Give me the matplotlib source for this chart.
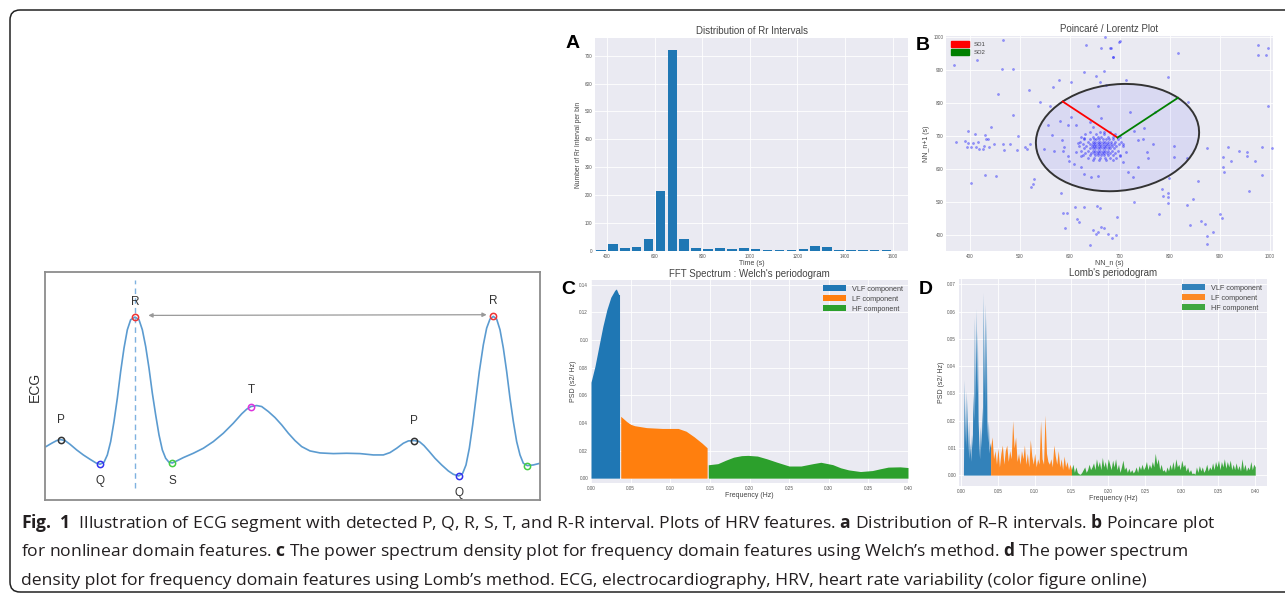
import numpy as np
import matplotlib
matplotlib.use("Agg")
import matplotlib.pyplot as plt
from matplotlib.patches import Ellipse, Patch, FancyBboxPatch

W, H = 1285, 594

# ---------------- data ----------------
# A: distribution of RR intervals (bin centres, counts)
rr_bins = [375, 425, 475, 525, 575, 625, 675, 725, 775, 825, 875, 925, 975,
           1025, 1075, 1125, 1175, 1225, 1275, 1325, 1375, 1425, 1475, 1525, 1575]
rr_counts = [5, 24, 12, 15, 42, 216, 720, 44, 12, 8, 10, 8, 12,
             8, 5, 5, 5, 8, 18, 15, 4, 2, 2, 2, 2]

# B: Poincare plot points (NN_n, NN_n+1)
poincare_outer = [
    (465, 992), (413, 931), (367, 915), (464, 903), (485, 903), (518, 839), (455, 827),
    (577, 870), (601, 865), (631, 978), (661, 969), (651, 883), (540, 802), (560, 792),
    (485, 764), (441, 728), (669, 1000), (680, 969), (697, 985), (685, 941), (627, 893),
    (668, 898), (660, 865), (672, 855), (565, 850),
    (396, 716), (409, 707), (430, 703), (372, 682), (389, 685), (396, 680), (405, 680),
    (415, 683), (431, 690), (435, 690), (393, 667), (401, 667), (411, 665), (418, 660),
    (425, 660), (428, 670), (438, 665), (448, 675), (465, 675), (480, 677), (468, 657),
    (493, 657), (496, 700), (509, 667), (513, 660), (520, 675),
    (401, 558), (430, 582), (451, 578), (527, 568), (525, 555), (521, 545),
    (581, 525), (585, 467), (593, 467), (610, 484), (627, 484), (590, 421), (613, 446),
    (618, 439), (660, 480), (639, 368), (645, 414), (655, 408), (661, 424), (668, 421),
    (651, 401), (675, 401), (691, 399), (684, 391), (694, 454), (653, 486), (727, 500),
    (555, 734), (563, 703), (548, 660), (568, 655), (580, 744), (583, 687), (596, 734),
    (612, 734), (601, 758), (615, 680), (628, 695), (639, 741), (645, 726), (656, 792),
    (661, 756), (668, 711), (588, 665), (596, 640), (598, 625), (608, 614), (621, 604),
    (628, 584), (641, 574), (655, 579), (611, 650), (621, 640), (585, 653),
    (681, 969), (685, 939), (699, 988), (711, 870), (816, 952), (795, 878), (975, 978),
    (996, 967), (975, 947), (991, 947), (996, 792), (836, 802), (719, 774), (769, 774),
    (748, 724), (728, 716), (736, 687), (746, 690), (766, 675), (753, 650), (756, 632),
    (807, 670), (807, 636), (833, 632), (874, 662), (906, 636), (916, 665), (921, 624),
    (937, 655), (953, 650), (953, 639), (969, 624), (983, 665), (1004, 662), (906, 607),
    (908, 589), (983, 582), (957, 533), (856, 563), (797, 571), (783, 538), (795, 527),
    (786, 516), (795, 513), (795, 495), (845, 507), (833, 490), (777, 462), (899, 462),
    (904, 450), (861, 441), (869, 433), (840, 429), (886, 408), (874, 396), (874, 370),
    (736, 604), (726, 575), (716, 590), (706, 620), (712, 650), (700, 640), (705, 675),
]
poincare_core = [
    (640, 712), (660, 712), (680, 712),
    (630, 705), (652, 705), (668, 705), (690, 705),
    (622, 698), (645, 698), (655, 698), (662, 698), (675, 698), (685, 698), (700, 698),
    (628, 690), (640, 690), (648, 690), (652, 690), (658, 690), (665, 690), (672, 690),
    (678, 690), (685, 690), (695, 690),
    (620, 683), (635, 683), (645, 683), (650, 683), (655, 683), (660, 683), (665, 683),
    (670, 683), (676, 683), (682, 683), (690, 683), (702, 683),
    (625, 676), (640, 676), (646, 676), (650, 676), (655, 676), (660, 676), (666, 676),
    (671, 676), (676, 676), (681, 676), (688, 676), (698, 676),
    (618, 669), (632, 669), (644, 669), (648, 669), (652, 669), (657, 669), (662, 669),
    (667, 669), (672, 669), (677, 669), (683, 669), (692, 669), (705, 669),
    (628, 662), (640, 662), (646, 662), (650, 662), (655, 662), (660, 662), (665, 662),
    (670, 662), (675, 662), (680, 662), (688, 662),
    (622, 655), (636, 655), (645, 655), (650, 655), (655, 655), (660, 655), (665, 655),
    (670, 655), (676, 655), (684, 655), (695, 655),
    (630, 648), (642, 648), (648, 648), (653, 648), (658, 648), (663, 648), (668, 648),
    (674, 648), (680, 648), (690, 648),
    (625, 641), (640, 641), (650, 641), (656, 641), (662, 641), (668, 641), (675, 641),
    (685, 641), (700, 641),
    (635, 634), (648, 634), (660, 634), (670, 634), (680, 634), (692, 634),
    (645, 627), (658, 627), (672, 627), (686, 627),
]
poincare_centre = (695, 695)
sd1, sd2 = 155, 171

# C: Welch PSD
welch_vlf_f = [0.000, 0.005, 0.010, 0.015, 0.020, 0.025, 0.030, 0.032, 0.035, 0.036]
welch_vlf_p = [0.0695, 0.081, 0.0956, 0.110, 0.122, 0.131, 0.136, 0.137, 0.133, 0.133]
welch_lf_f = [0.0375, 0.045, 0.050, 0.055, 0.070, 0.090, 0.100, 0.110, 0.120, 0.130,
              0.140, 0.1465]
welch_lf_p = [0.0448, 0.041, 0.039, 0.038, 0.0366, 0.036, 0.036, 0.036, 0.034, 0.030,
              0.0254, 0.022]
welch_hf_f = [0.148, 0.160, 0.170, 0.180, 0.190, 0.198, 0.210, 0.222, 0.235, 0.250,
              0.265, 0.280, 0.290, 0.305, 0.315, 0.325, 0.340, 0.355, 0.365, 0.375,
              0.390, 0.400]
welch_hf_p = [0.0097, 0.0105, 0.013, 0.0152, 0.0163, 0.0165, 0.016, 0.014, 0.0115, 0.0088,
              0.0088, 0.0105, 0.0115, 0.0098, 0.0075, 0.006, 0.0048, 0.0055, 0.0068, 0.008,
              0.0082, 0.0077]

# D: Lomb periodogram
lomb_vlf_f = [0.003, 0.004, 0.005, 0.006, 0.007, 0.008, 0.009, 0.010, 0.011, 0.012,
              0.013, 0.014, 0.015, 0.016, 0.017, 0.018, 0.019, 0.020, 0.021, 0.022,
              0.023, 0.024, 0.025, 0.026, 0.027, 0.028, 0.029, 0.030, 0.031, 0.032,
              0.033, 0.034, 0.035, 0.036, 0.037, 0.038, 0.039, 0.040]
lomb_vlf_p = [0.000, 0.035, 0.012, 0.031, 0.010, 0.028, 0.008, 0.020, 0.006, 0.012,
              0.005, 0.015, 0.010, 0.030, 0.020, 0.058, 0.025, 0.061, 0.030, 0.053,
              0.020, 0.012, 0.006, 0.018, 0.010, 0.025, 0.015, 0.067, 0.030, 0.063,
              0.025, 0.058, 0.020, 0.012, 0.020, 0.008, 0.012, 0.010]
lomb_lf_p = [0.010, 0.014, 0.006, 0.009, 0.004, 0.010, 0.003, 0.008, 0.011, 0.004,
             0.009, 0.011, 0.005, 0.009, 0.006, 0.020, 0.010, 0.014, 0.005, 0.008,
             0.004, 0.009, 0.006, 0.011, 0.004, 0.008, 0.003, 0.013, 0.007, 0.004,
             0.008, 0.003, 0.006, 0.004, 0.020, 0.006, 0.004, 0.022, 0.008, 0.005,
             0.004, 0.006, 0.003, 0.011, 0.007, 0.004, 0.009, 0.003, 0.006, 0.002,
             0.007, 0.003, 0.005, 0.002, 0.004, 0.002]
lomb_hf_p = [0.002, 0.004, 0.001, 0.003, 0.001, 0.0005, 0.0003, 0.001, 0.002, 0.003,
             0.001, 0.002, 0.004, 0.002, 0.003, 0.0045, 0.002, 0.006, 0.003, 0.005,
             0.002, 0.0065, 0.003, 0.005, 0.002, 0.006, 0.004, 0.002, 0.0055, 0.003,
             0.006, 0.002, 0.004, 0.001, 0.003, 0.0055, 0.002, 0.003, 0.001, 0.0025,
             0.001, 0.002, 0.0008, 0.0015, 0.003, 0.001, 0.0035, 0.002, 0.004, 0.002,
             0.003, 0.005, 0.002, 0.004, 0.0025, 0.005, 0.003, 0.008, 0.004, 0.006,
             0.002, 0.004, 0.0015, 0.002, 0.001, 0.003, 0.0015, 0.004, 0.002, 0.005,
             0.002, 0.006, 0.003, 0.004, 0.002, 0.0055, 0.003, 0.004, 0.0015, 0.003,
             0.001, 0.002, 0.0005, 0.0008, 0.0003, 0.003, 0.001, 0.0035, 0.0015, 0.003,
             0.001, 0.002, 0.004, 0.0015, 0.003, 0.002, 0.0045, 0.002, 0.005, 0.003,
             0.0055, 0.002, 0.005, 0.003, 0.006, 0.0025, 0.005, 0.003, 0.0055, 0.002,
             0.004, 0.002, 0.0045, 0.002, 0.0035, 0.0015, 0.006, 0.002, 0.004, 0.0015,
             0.003, 0.002, 0.005, 0.002, 0.004, 0.003]
lomb_lf_f = np.round(np.arange(0.040, 0.1501, 0.002), 3)
lomb_hf_f = np.round(np.arange(0.150, 0.4001, 0.002), 3)

# ECG segment (sample, amplitude)
ecg_t = [78, 95, 110, 122, 135, 150, 170, 190, 210, 228, 240, 252, 262, 272, 282, 292,
         302, 312, 322, 332, 345, 357, 367, 377, 387, 397, 407, 417, 427, 437, 447, 457,
         470, 490, 520, 550, 580, 610, 640, 665, 680, 693, 710, 725, 745, 765, 785, 805,
         825, 845, 870, 900, 940, 980, 1020, 1060, 1090, 1110, 1130, 1150, 1165, 1183,
         1198, 1212, 1228, 1245, 1265, 1285, 1300, 1316, 1328, 1338, 1348, 1358, 1368,
         1378, 1390, 1400, 1410, 1420, 1430, 1440, 1450, 1460, 1470, 1480, 1490, 1500,
         1510, 1522, 1540, 1560]
ecg_y = [545, 535, 527, 524, 527, 538, 555, 570, 583, 594, 598, 592, 570, 530, 470, 400,
         320, 250, 195, 165, 157, 165, 195, 245, 310, 385, 450, 510, 555, 580, 592, 594,
         588, 578, 565, 550, 530, 505, 475, 447, 433, 425, 422, 425, 440, 458, 480, 505,
         527, 545, 558, 564, 566, 565, 566, 570, 570, 563, 550, 535, 528, 527,
         530, 542, 560, 580, 600, 618, 628, 633, 625, 600, 550, 480, 400,
         320, 240, 190, 163, 155, 163, 195, 250, 320, 400, 470, 530, 570,
         595, 602, 600, 595]
ecg_amp = [705 - v for v in ecg_y]
wave_names = ["P", "Q", "R", "S", "T", "P", "Q", "R", "S"]
wave_t = [122, 240, 345, 457, 693, 1183, 1316, 1420, 1522]
wave_amp = [705 - v for v in [524, 598, 157, 594, 425, 527, 633, 155, 602]]

caption = [
    r"$\mathbf{Fig.\ 1}$  Illustration of ECG segment with detected P, Q, R, S, T, and R-R interval. "
    r"Plots of HRV features. $\mathbf{a}$ Distribution of R–R intervals. $\mathbf{b}$ Poincare plot",
    r"for nonlinear domain features. $\mathbf{c}$ The power spectrum density plot for frequency "
    r"domain features using Welch’s method. $\mathbf{d}$ The power spectrum",
    r"density plot for frequency domain features using Lomb’s method. ECG, electrocardiography, "
    r"HRV, heart rate variability (color figure online)",
]

# ---------------- drawing ----------------
plt.rcParams['font.family'] = 'Liberation Sans'
plt.rcParams['mathtext.fontset'] = 'custom'
plt.rcParams['mathtext.rm'] = 'Open Sans'
plt.rcParams['mathtext.bf'] = 'Open Sans:bold'

BLUE, ORANGE, GREEN = '#1f77b4', '#ff7f0e', '#2ca02c'

fig = plt.figure(figsize=(W / 100, H / 100), dpi=100)


def add_ax(l, t, r, b):
    return fig.add_axes([l / W, 1 - b / H, (r - l) / W, (b - t) / H])


def dark_style(ax):
    ax.set_facecolor('#EAEAF2')
    ax.grid(True, color='white', lw=0.6)
    ax.set_axisbelow(True)
    for s in ax.spines.values():
        s.set_visible(False)
    ax.tick_params(length=0, labelsize=3.3, labelcolor='#555555', pad=2)


# outer frame
frame = FancyBboxPatch((0.10, 0.02), 13.2, 5.82, boxstyle="round,pad=0,rounding_size=0.1",
                       transform=fig.dpi_scale_trans, fill=False, ec='#222222', lw=1.1)
fig.patches.append(frame)

# A
axA = add_ax(595, 38, 908, 251)
dark_style(axA)
axA.bar(rr_bins, rr_counts, width=40, color=BLUE)
axA.set_xlim(350, 1665)
axA.set_ylim(0, 763)
axA.set_xticks(range(400, 1601, 200))
axA.set_yticks(range(0, 701, 100))
axA.set_title("Distribution of Rr Intervals", fontsize=7, color='#444444', pad=3)
axA.set_xlabel("Time (s)", fontsize=5, color='#444444', labelpad=1)
axA.set_ylabel("Number of Rr Interval per bin", fontsize=4.8, color='#444444', labelpad=2)

# B
axB = add_ax(946, 36, 1273, 251)
dark_style(axB)
pts = poincare_outer + poincare_core
nn_n = [p[0] for p in pts]
nn_n1 = [p[1] for p in pts]
axB.scatter(nn_n, nn_n1, s=2.5, c='blue', alpha=0.38, edgecolors='blue', linewidths=0.3)
cx, cy = poincare_centre
axB.add_patch(Ellipse((cx, cy), 2 * sd2, 2 * sd1, angle=45, fc='blue', alpha=0.07, ec='none'))
axB.add_patch(Ellipse((cx, cy), 2 * sd2, 2 * sd1, angle=45, fill=False, ec='#333333', lw=1.4))
c45 = np.cos(np.pi / 4)
axB.plot([cx, cx - sd1 * c45], [cy, cy + sd1 * c45], color='red', lw=1.3)
axB.plot([cx, cx + sd2 * c45], [cy, cy + sd2 * c45], color='green', lw=1.3)
axB.set_xlim(352, 1006)
axB.set_ylim(350, 1004)
axB.set_xticks(range(400, 1001, 100))
axB.set_yticks(range(400, 1001, 100))
axB.set_title("Poincaré / Lorentz Plot", fontsize=7, color='#444444', pad=3)
axB.set_xlabel("NN_n (s)", fontsize=5, color='#444444', labelpad=1)
axB.set_ylabel("NN_n+1 (s)", fontsize=5, color='#444444', labelpad=2)
axB.legend(handles=[Patch(color='red', label='SD1'), Patch(color='green', label='SD2')],
           loc='upper left', fontsize=4.4, frameon=False, handlelength=3.0, handleheight=1.2,
           borderaxespad=0.4, labelspacing=0.25, labelcolor='#444444')

# C
axC = add_ax(591, 280, 908, 483)
dark_style(axC)
axC.fill_between(welch_vlf_f, welch_vlf_p, color=BLUE, lw=0, label='VLF component')
axC.fill_between(welch_lf_f, welch_lf_p, color=ORANGE, lw=0, label='LF component')
axC.fill_between(welch_hf_f, welch_hf_p, color=GREEN, lw=0, label='HF component')
axC.set_xlim(0, 0.40)
axC.set_ylim(-0.0035, 0.1435)
axC.set_xticks(np.arange(0, 0.401, 0.05))
axC.set_yticks(np.arange(0, 0.141, 0.02))
axC.xaxis.set_major_formatter('{x:.2f}')
axC.yaxis.set_major_formatter('{x:.2f}')
axC.set_title("FFT Spectrum : Welch's periodogram", fontsize=7, color='#444444', pad=2)
axC.set_xlabel("Frequency (Hz)", fontsize=5, color='#444444', labelpad=1)
axC.set_ylabel("PSD (s2/ Hz)", fontsize=5, color='#444444', labelpad=2)
axC.legend(loc='upper right', fontsize=5.2, frameon=False, handlelength=3.2,
           handleheight=0.9, labelspacing=0.35, borderaxespad=0.3, labelcolor='#444444')

# D
axD = add_ax(959, 279, 1267, 486)
dark_style(axD)
axD.fill_between(lomb_vlf_f, lomb_vlf_p, color=BLUE, lw=0, alpha=0.9, label='VLF component')
axD.fill_between(lomb_lf_f, lomb_lf_p, color=ORANGE, lw=0, alpha=0.9, label='LF component')
axD.fill_between(lomb_hf_f, lomb_hf_p, color=GREEN, lw=0, alpha=0.9, label='HF component')
axD.set_xlim(-0.003, 0.416)
axD.set_ylim(-0.004, 0.072)
axD.set_xticks(np.arange(0, 0.401, 0.05))
axD.set_yticks(np.arange(0, 0.071, 0.01))
axD.xaxis.set_major_formatter('{x:.2f}')
axD.yaxis.set_major_formatter('{x:.2f}')
axD.set_title("Lomb's periodogram", fontsize=7, color='#444444', pad=2)
axD.set_xlabel("Frequency (Hz)", fontsize=5, color='#444444', labelpad=1)
axD.set_ylabel("PSD (s2/ Hz)", fontsize=5, color='#444444', labelpad=2)
axD.legend(loc='upper right', fontsize=5.2, frameon=False, handlelength=3.2,
           handleheight=0.9, labelspacing=0.35, borderaxespad=0.3, labelcolor='#444444')

# panel letters
for letter, x, y in [("A", 573, 43), ("B", 923, 45), ("C", 568, 289), ("D", 926, 289)]:
    fig.text(x / W, 1 - y / H, letter, fontsize=14, fontweight='bold', ha='center', va='center')

# ECG panel
axE = add_ax(45, 272, 540, 500)
axE.plot(ecg_t, ecg_amp, color='#5b9bd0', lw=1.2)
axE.set_xlim(75, 1560)
axE.set_ylim(0, 683)
axE.set_xticks([])
axE.set_yticks([])
for s in axE.spines.values():
    s.set_color('#8c8c8c')
    s.set_linewidth(1.3)
wave_colors = {"P": '#333333', "Q": '#3333ee', "R": '#ee3333', "S": '#44cc44', "T": '#dd33dd'}
label_off = [14, -12, 11, -13, 12, 14, -12, 11, None]
axE.axvline(wave_t[2], ymin=0.054, ymax=0.966, color='#7fb2e0', lw=1.0, ls=(0, (4, 3)))
for name, t, a, off in zip(wave_names, wave_t, wave_amp, label_off):
    axE.plot(t, a, 'o', mfc='none', mec=wave_colors[name], ms=4.5, mew=1.1)
    if off is not None:
        axE.annotate(name, (t, a), xytext=(0, off), textcoords='offset points',
                     ha='center', va='center', fontsize=8.5, color='#333333')
axE.annotate("", xy=(wave_t[7] - 20, wave_amp[7] + 5), xytext=(wave_t[2] + 40, wave_amp[2] + 5),
             arrowprops=dict(arrowstyle='<|-|>', color='#999999', lw=0.9,
                             mutation_scale=6, shrinkA=0, shrinkB=0))
fig.text(35 / W, 1 - 387 / H, "ECG", rotation=90, fontsize=10, color='#333333',
         ha='center', va='center')

# caption
for i, line in enumerate(caption):
    fig.text(21 / W, 1 - (528 + 28.5 * i) / H, line, fontsize=12.6, family='Open Sans',
             color='#231f20', va='baseline', ha='left')

fig.savefig("out.png", dpi=100)
